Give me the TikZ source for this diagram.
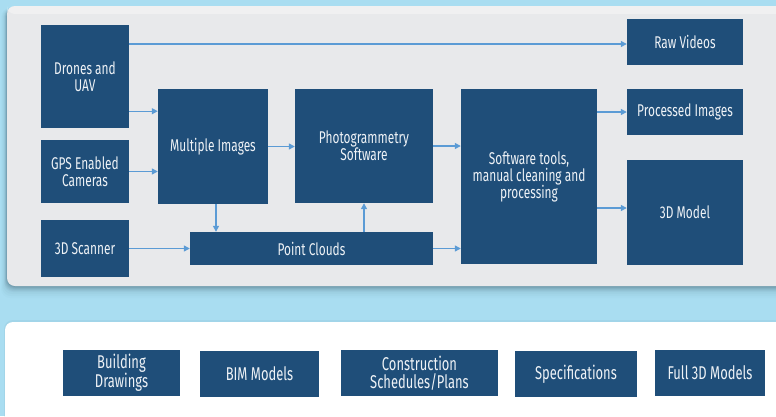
\documentclass[tikz,border=0pt]{standalone}
\usepackage{fontspec}
\setmainfont[FakeStretch=0.7]{Fira Sans}
\usetikzlibrary{arrows.meta}
\definecolor{bgblue}{HTML}{A9DDF1}
\definecolor{panelgray}{HTML}{E8E9EB}
\definecolor{boxblue}{HTML}{1F4E79}
\definecolor{arrowblue}{HTML}{5B9BD5}
\definecolor{txtcol}{HTML}{EEF2F6}
\definecolor{shadowcol}{HTML}{3E5E6E}
\begin{document}
\begin{tikzpicture}[x=1pt,y=-1pt,
  box/.style={fill=boxblue, draw=none, text=txtcol, align=center,
    font=\fontsize{17}{17}\selectfont, inner sep=2pt},
  lowbox/.style={box, font=\fontsize{18.5}{18}\selectfont},
  arr/.style={draw=arrowblue, line width=1.3pt, -{Triangle[length=6pt,width=6pt]}}]
\useasboundingbox (0,0) rectangle (776,416);
\fill[bgblue] (0,0) rectangle (776,416);
% shadows
\foreach \i/\o in {1/0.14,2/0.11,3/0.09,4/0.08,5/0.06,6/0.05,8/0.04,10/0.03,12/0.02}{
  \fill[shadowcol, opacity=\o, rounded corners=9pt] (7-\i/2,8) rectangle (800,286+\i);
}
\fill[shadowcol, opacity=0.06, rounded corners=9pt] (4,320) rectangle (800,430);
% panels
\fill[panelgray, rounded corners=8pt] (7,6) rectangle (800,286);
\fill[white, opacity=0.35, rounded corners=8pt] (7,6) rectangle (800,14);
\fill[white, rounded corners=8pt] (5,322) rectangle (800,440);

% top nodes
\node[box, minimum width=88pt, minimum height=103pt] (drones) at (85,76.5) {Drones and\\UAV};
\node[box, minimum width=88pt, minimum height=63pt] (gps) at (85,171.5) {GPS Enabled\\Cameras};
\node[box, minimum width=88pt, minimum height=57pt] (scan) at (85,248.5) {3D Scanner};
\node[box, minimum width=110pt, minimum height=115pt] (mi) at (213,146.5) {Multiple Images};
\node[box, minimum width=138pt, minimum height=114pt] (ps) at (364,146) {Photogrammetry\\Software};
\node[box, minimum width=243pt, minimum height=33pt] (pc) at (311.5,248.5) {Point Clouds};
\node[box, minimum width=136pt, minimum height=175pt] (st) at (529,176.5) {Software tools,\\manual cleaning and\\processing};
\node[box, minimum width=116pt, minimum height=46pt] (raw) at (685,42) {Raw Videos};
\node[box, minimum width=116pt, minimum height=46pt] (pi) at (685,112) {Processed Images};
\node[box, minimum width=116pt, minimum height=105pt] (m3d) at (685,212.5) {3D Model};

% arrows
\draw[arr] (drones.east |- 0,44) -- (raw.west |- 0,44);
\draw[arr] ([yshift=17pt]drones.south east) -- ([yshift=17pt]drones.south east -| mi.west);
\draw[arr] (gps.east) -- (gps.east -| mi.west);
\draw[arr] ([xshift=3pt]mi.south) -- ([xshift=3pt]mi.south |- pc.north);
\draw[arr] (scan.east) -- (scan.east -| pc.west);
\draw[arr] (mi.east) -- (mi.east -| ps.west);
\draw[arr] (pc.north -| ps.south) -- (ps.south);
\draw[arr] (ps.east) -- (ps.east -| st.west);
\draw[arr] (pc.east) -- (pc.east -| st.west);
\draw[arr] (st.east |- pi.west) -- (pi.west);
\draw[arr] (st.east |- 0,208) -- (m3d.west |- 0,208);

% bottom nodes
\node[lowbox, minimum width=117pt, minimum height=46pt] (bd) at (121.5,373) {Building\\Drawings};
\node[lowbox, minimum width=119pt, minimum height=46pt] (bim) at (259.5,374) {BIM Models};
\node[lowbox, minimum width=157pt, minimum height=46pt] (cs) at (419.5,373) {Construction\\Schedules/Plans};
\node[lowbox, minimum width=122pt, minimum height=46pt] (spec) at (576,374) {Specifications};
\node[lowbox, minimum width=110pt, minimum height=46pt] (f3d) at (710,373) {Full 3D Models};
\end{tikzpicture}
\end{document}
